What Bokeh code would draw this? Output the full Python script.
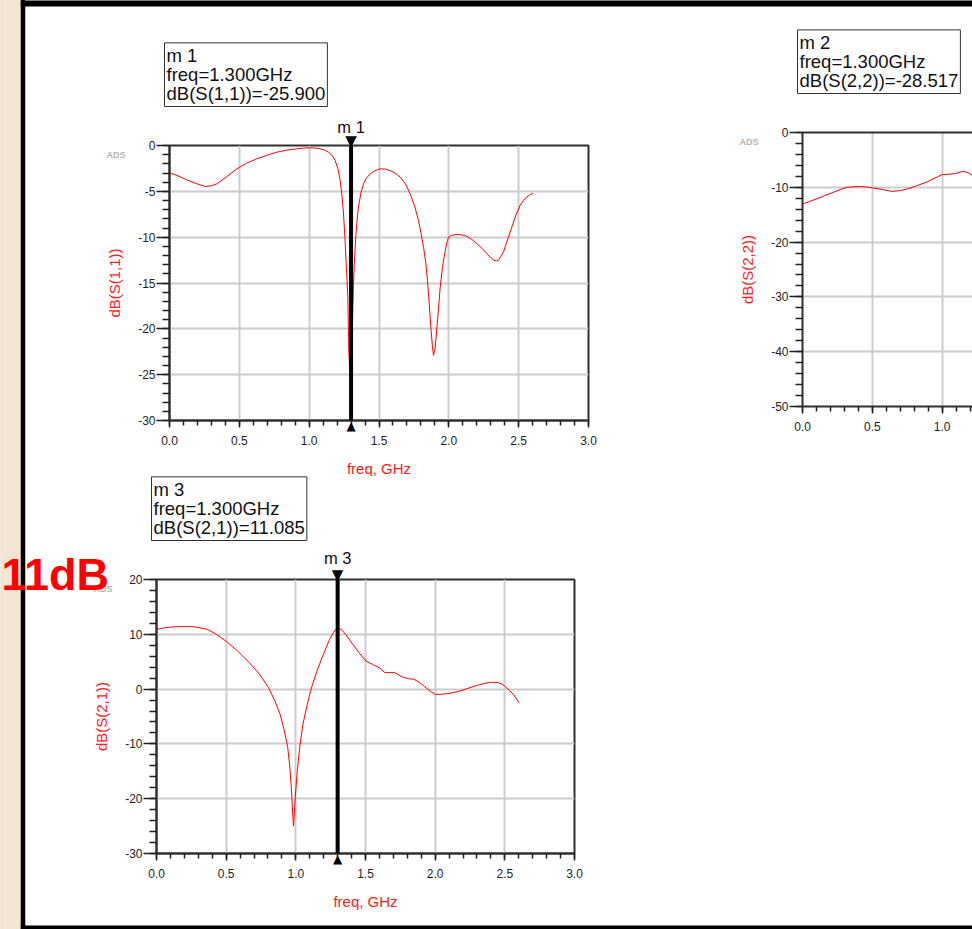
from bokeh.plotting import figure
from bokeh.layouts import row, column
from bokeh.models import (Range1d, SingleIntervalTicker, PrintfTickFormatter, Label, Span,
                          LinearAxis, FixedTicker)
from bokeh.embed import file_html
from bokeh.resources import INLINE

# ---------------- data ----------------
s11_freq = [0.0, 0.06, 0.124, 0.19, 0.255, 0.3, 0.339, 0.41, 0.482, 0.55, 0.625, 0.7, 0.768, 0.84,
            0.912, 0.96, 1.007, 1.045, 1.079, 1.11, 1.138, 1.165, 1.186, 1.205, 1.222, 1.235, 1.246,
            1.256, 1.265, 1.277, 1.284, 1.292, 1.300, 1.308, 1.313, 1.317, 1.323, 1.329, 1.34, 1.353,
            1.37, 1.389, 1.41, 1.437, 1.47, 1.508, 1.545, 1.58, 1.615, 1.652, 1.69, 1.723, 1.755,
            1.783, 1.80, 1.819, 1.835, 1.847, 1.86, 1.871, 1.882, 1.89, 1.90, 1.909, 1.925, 1.938,
            1.955, 1.974, 1.988, 1.998, 2.02, 2.057, 2.09, 2.129, 2.165, 2.2, 2.24, 2.272, 2.30, 2.32,
            2.34, 2.356, 2.372, 2.392, 2.42, 2.451, 2.48, 2.511, 2.535, 2.559, 2.58, 2.601]
s11_db = [-2.98, -3.3, -3.75, -4.15, -4.47, -4.4, -4.18, -3.4, -2.55, -1.95, -1.45, -1.05, -0.73, -0.5,
          -0.36, -0.28, -0.25, -0.28, -0.36, -0.5, -0.73, -1.1, -1.64, -2.5, -3.8, -5.5, -7.45,
          -10.0, -12.9, -16.5, -22.5, -25.0, -25.9, -21.0, -17.5, -15.3, -13.0, -11.1, -8.6, -6.7,
          -5.2, -4.2, -3.55, -3.1, -2.75, -2.55, -2.58, -2.73, -3.0, -3.45, -4.2, -5.27, -6.6,
          -8.2, -9.5, -11.1, -12.8, -14.7, -17.3, -19.8, -21.8, -22.9, -22.3, -20.9, -18.0, -15.5,
          -13.2, -11.5, -10.5, -10.0, -9.8, -9.7, -9.75, -9.9, -10.25, -10.7, -11.25, -11.8, -12.25, -12.5,
          -12.6, -12.5, -12.1, -11.6, -10.3, -8.9, -7.6, -6.5, -6.0, -5.6, -5.4, -5.2]

s22_freq = [0.0, 0.05, 0.103, 0.16, 0.223, 0.27, 0.318, 0.36, 0.414, 0.46, 0.51, 0.57, 0.64, 0.70,
            0.75, 0.82, 0.893, 0.95, 0.998, 1.05, 1.096, 1.13, 1.156, 1.19, 1.218, 1.3]
s22_db = [-13.05, -12.6, -12.1, -11.5, -10.9, -10.4, -10.0, -9.9, -9.85, -9.95, -10.14, -10.4, -10.75,
          -10.6, -10.3, -9.7, -9.0, -8.3, -7.7, -7.6, -7.5, -7.2, -7.1, -7.4, -7.9, -28.517]

s21_freq = [0.0, 0.06, 0.118, 0.19, 0.255, 0.31, 0.365, 0.43, 0.502, 0.58, 0.667, 0.74, 0.804, 0.85,
            0.887, 0.917, 0.942, 0.958, 0.969, 0.977, 0.983, 0.99, 0.996, 1.01, 1.03, 1.051, 1.08,
            1.106, 1.15, 1.189, 1.22, 1.243, 1.27, 1.293, 1.30, 1.326, 1.36, 1.408, 1.455, 1.504,
            1.55, 1.6, 1.64, 1.71, 1.765, 1.81, 1.847, 1.875, 1.902, 1.95, 1.998, 2.04, 2.1, 2.177,
            2.23, 2.286, 2.34, 2.383, 2.42, 2.45, 2.48, 2.506, 2.535, 2.561, 2.58, 2.602]
s21_db = [10.9, 11.2, 11.35, 11.4, 11.4, 11.2, 10.9, 10.0, 8.7, 7.0, 4.8, 2.7, 0.27, -2.2,
          -4.6, -7.5, -10.7, -14.5, -18.6, -22.5, -25.0, -22.5, -19.8, -15.0, -10.2, -6.4, -3.0,
          -0.3, 3.2, 5.75, 7.7, 9.1, 10.3, 11.05, 11.085, 10.9, 9.9, 8.2, 6.6, 5.1,
          4.5, 3.9, 3.0, 3.0, 2.2, 1.9, 1.8, 1.4, 0.9, -0.1, -0.95, -0.95, -0.8, -0.35,
          0.1, 0.57, 0.95, 1.2, 1.25, 1.2, 0.9, 0.4, -0.3, -0.95, -1.6, -2.5]

marker_names = ["m 1", "m 2", "m 3"]
marker_traces = ["dB(S(1,1))", "dB(S(2,2))", "dB(S(2,1))"]
marker_freq = 1.300
marker_values = [-25.900, -28.517, 11.085]
x_label = "freq, GHz"
note_text = "11dB"

# ---------------- styling ----------------
FONT = "Liberation Sans"
RED = "#ff1a1a"
FRAME = "#303030"
GRID = "#cccccc"
TICKTXT = "#1e1e28"
BEIGE = "#f3e4d4"
PX_PER_GHZ = 419 / 3.0


def style(p, y_interval, ylabel):
    xt = SingleIntervalTicker(interval=0.5, num_minor_ticks=5)
    yt = SingleIntervalTicker(interval=y_interval, num_minor_ticks=5)
    p.xaxis.ticker = xt
    p.yaxis.ticker = yt
    p.xgrid.ticker = xt
    p.ygrid.ticker = yt
    p.grid.grid_line_color = GRID
    p.grid.grid_line_width = 2
    p.xaxis.formatter = PrintfTickFormatter(format="%.1f")
    p.yaxis.formatter = PrintfTickFormatter(format="%d")
    for ax in (p.xaxis, p.yaxis):
        ax.axis_line_color = FRAME
        ax.axis_line_width = 2
        ax.major_tick_line_color = "#202020"
        ax.minor_tick_line_color = "#202020"
        ax.major_tick_line_width = 1.5
        ax.minor_tick_line_width = 1.5
        ax.major_tick_in = 0
        ax.minor_tick_in = 0
        ax.major_label_text_font = FONT
        ax.major_label_text_font_size = "12px"
        ax.major_label_text_color = TICKTXT
        ax.axis_label_text_font = FONT
        ax.axis_label_text_font_size = "15px"
        ax.axis_label_text_font_style = "normal"
        ax.axis_label_text_color = RED
    p.xaxis.major_tick_out = 7
    p.xaxis.minor_tick_out = 5
    p.xaxis.major_label_standoff = 8
    p.xaxis.axis_label_standoff = 12
    p.yaxis.major_tick_out = 13
    p.yaxis.minor_tick_out = 7
    p.yaxis.major_label_standoff = 1
    p.yaxis.axis_label_standoff = 12
    p.yaxis.axis_label = ylabel
    p.background_fill_color = "white"
    p.border_fill_color = "white"
    p.outline_line_color = FRAME
    p.outline_line_width = 2


def put(p, side, **kw):
    # labels live in a side panel so that they are not clipped to the frame
    p.add_layout(Label(**kw), side)


def chrome(p, side, x, y, dx, dy, w, h, color):
    # a piece of the window edge, as an empty label box
    put(p, side, x=x, y=y, x_offset=dx, y_offset=dy, text=" ", text_font_size="2px",
        text_align="center", text_baseline="middle", background_fill_color=color,
        border_line_color=None, padding=dict(x=w // 2, y=h // 2))


def add_ads(p, ytop, side):
    put(p, side, x=0, y=ytop, x_offset=-63, y_offset=-4, text="ADS", text_font=FONT,
        text_font_size="9px", text_font_style="bold", text_color="#b4b4b4",
        text_baseline="top", text_align="left")


def add_box(p, ytop, idx):
    txt = f"{marker_names[idx]}\nfreq={marker_freq:.3f}GHz\n{marker_traces[idx]}={marker_values[idx]:.3f}"
    put(p, "above", x=0, y=ytop, x_offset=-5, y_offset=39, text=txt, text_font=FONT,
        text_font_size="18.5px", text_line_height=0.92, text_color="#111111",
        text_baseline="bottom", text_align="left",
        border_line_color="#333333", border_line_width=1,
        background_fill_color="white", padding=2)


def add_marker(p, ybot, ytop, idx, tri_side, name_dy):
    p.add_layout(Span(location=marker_freq, dimension="height", line_color="black", line_width=4))
    put(p, tri_side, x=marker_freq, y=ytop, y_offset=5, text="\u25BC", text_font="DejaVu Sans",
        text_font_size="15px", text_color="black", text_align="center", text_baseline="middle")
    put(p, "right", x=marker_freq, y=ybot, y_offset=-5, text="\u25B2", text_font="DejaVu Sans",
        text_font_size="12px", text_color="black", text_align="center", text_baseline="middle")
    put(p, "above", x=marker_freq, y=ytop, y_offset=name_dy, text=marker_names[idx], text_font=FONT,
        text_font_size="16.5px", text_color="#111111", text_align="center",
        text_baseline="bottom")


# ---------------- S11 ----------------
f1 = figure(width=690, height=476, x_range=Range1d(0, 3), y_range=Range1d(-30, 0),
            output_backend="svg", toolbar_location=None,
            min_border_left=169, min_border_right=102, min_border_top=145, min_border_bottom=56)
style(f1, 5, marker_traces[0])
chrome(f1, "right", 0, 0, -159, -93, 20, 476, BEIGE)
chrome(f1, "right", 0, 0, -146.5, -93, 4, 476, "black")
chrome(f1, "above", 0, 0, 188, 142, 674, 4, "black")
f1.line(s11_freq, s11_db, line_color="red", line_width=1)
add_ads(f1, 0, "left")
add_box(f1, 0, 0)
add_marker(f1, -30, 0, 0, "above", 10)
put(f1, "left", x=1.5, y=-30, y_offset=-39, text=x_label, text_font=FONT, text_font_size="15px",
    text_color=RED, text_align="center", text_baseline="top")

# ---------------- S22 (cut by the window edge) ----------------
f2_frame_w = 282 - 112
f2 = figure(width=282, height=476, x_range=Range1d(0, f2_frame_w / PX_PER_GHZ), y_range=Range1d(-50, 0),
            output_backend="svg", toolbar_location=None,
            min_border_left=112, min_border_right=0, min_border_top=132, min_border_bottom=70)
style(f2, 10, marker_traces[1])
f2.outline_line_color = None
top_axis = LinearAxis(ticker=FixedTicker(ticks=[]), axis_line_color=FRAME, axis_line_width=2,
                      major_tick_out=0, minor_tick_out=0, major_label_text_font_size="0px")
f2.add_layout(top_axis, "above")
chrome(f2, "above", 0, 0, 28, 129, 288, 4, "black")
f2.line(s22_freq, s22_db, line_color="red", line_width=1)
add_ads(f2, 0, "above")
add_box(f2, 0, 1)

# ---------------- S21 ----------------
f3 = figure(width=972, height=453, x_range=Range1d(0, 3), y_range=Range1d(-30, 20),
            output_backend="svg", toolbar_location=None,
            min_border_left=156, min_border_right=398, min_border_top=103, min_border_bottom=76)
style(f3, 10, marker_traces[2])
f3.xaxis.axis_label = x_label
chrome(f3, "right", 0, 20, -146, -123.5, 20, 454, BEIGE)
chrome(f3, "right", 0, 20, -133.5, -123.5, 4, 454, "black")
chrome(f3, "below", 0, 20, 340, -348, 952, 2, "black")
f3.line(s21_freq, s21_db, line_color="red", line_width=1)
add_ads(f3, 20, "right")
add_box(f3, 20, 2)
add_marker(f3, -30, 20, 2, "right", 13)
put(f3, "right", x=0, y=20, x_offset=-155, y_offset=-20.5, text=note_text, text_font=FONT,
    text_font_size="45px", text_font_style="bold", text_color="#ff0000",
    text_align="left", text_baseline="bottom")

layout = column(row(f1, column(f2)), f3)
open("out.html", "w").write(file_html(layout, INLINE))
